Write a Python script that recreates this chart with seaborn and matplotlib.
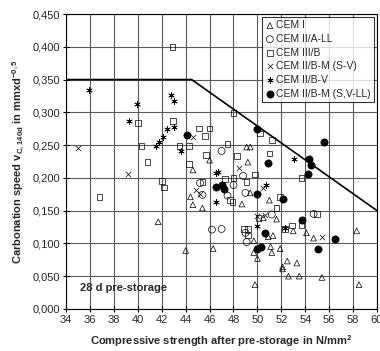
import seaborn as sns
import matplotlib.pyplot as plt
from matplotlib.ticker import MultipleLocator, FuncFormatter

# CEM I (open triangles)
cem1_x = [41.7, 44.0, 44.4, 46.3, 44.6, 45.4, 48.7, 51.0, 51.6, 50.5, 49.7, 50.0, 49.7, 49.8,
          50.9, 51.3, 51.1, 51.2, 52.1, 51.9, 52.5, 53.3, 52.6, 53.5, 53.0, 54.1, 54.7, 55.4,
          58.3, 58.5, 49.1, 49.4, 49.2, 46.0, 44.6, 49.4, 52.1]
cem1_y = [0.133, 0.089, 0.171, 0.092, 0.159, 0.154, 0.160, 0.166, 0.137, 0.139, 0.104, 0.077,
          0.086, 0.037, 0.110, 0.112, 0.095, 0.086, 0.061, 0.092, 0.073, 0.070, 0.050, 0.050,
          0.119, 0.116, 0.108, 0.048, 0.119, 0.037, 0.247, 0.247, 0.224, 0.227, 0.212, 0.177, 0.064]

# CEM II/A-LL (open circles)
cem2all_x = [46.2, 47.0, 45.4, 47.5, 48.0, 49.0, 51.2, 49.0, 49.1, 54.7, 47.0, 48.8, 45.2]
cem2all_y = [0.121, 0.122, 0.174, 0.173, 0.189, 0.177, 0.144, 0.116, 0.102, 0.145, 0.241, 0.203, 0.192]

# CEM III/B (open squares)
cem3b_x = [42.9, 40.0, 42.95, 40.3, 40.8, 43.5, 44.3, 44.3, 36.8, 42.0, 42.2, 48.0, 45.1, 46.0,
           45.6, 47.5, 50.2, 51.2, 51.0, 45.7, 48.3, 49.8, 48.0, 53.7, 45.4, 47.3, 49.1, 47.9,
           51.9, 51.6, 50.1, 55.0, 48.9, 49.2, 49.2, 52.3, 52.9, 53.7, 47.7]
cem3b_y = [0.400, 0.284, 0.287, 0.249, 0.224, 0.249, 0.249, 0.221, 0.171, 0.195, 0.185, 0.299,
           0.275, 0.275, 0.264, 0.252, 0.268, 0.258, 0.237, 0.235, 0.233, 0.205, 0.200, 0.200,
           0.194, 0.198, 0.194, 0.163, 0.171, 0.154, 0.139, 0.145, 0.122, 0.122, 0.112, 0.122,
           0.127, 0.127, 0.166]

# CEM II/B-M (S-V) (crosses)
cem2bmsv_x = [35.0, 39.2, 44.6, 48.5, 44.9, 50.0, 50.6, 55.4, 50.5, 45.2]
cem2bmsv_y = [0.246, 0.206, 0.262, 0.215, 0.182, 0.141, 0.143, 0.110, 0.185, 0.176]

# CEM II/B-V (asterisks)
cem2bv_x = [35.9, 39.9, 39.3, 42.8, 43.0, 43.0, 42.4, 42.1, 41.8, 41.5, 43.6, 53.1, 46.5, 46.7,
            46.5, 50.7, 50.0, 52.3]
cem2bv_y = [0.334, 0.313, 0.287, 0.326, 0.318, 0.278, 0.275, 0.262, 0.255, 0.249, 0.241, 0.229,
            0.208, 0.209, 0.163, 0.189, 0.127, 0.124]

# CEM II/B-M (S,V-LL) (filled circles)
cem2bmsvll_x = [44.1, 50.0, 50.9, 55.6, 54.3, 54.5, 54.2, 46.5, 47.0, 47.2, 50.0, 52.1, 53.7,
                50.6, 50.0, 50.3, 55.1, 56.5]
cem2bmsvll_y = [0.266, 0.275, 0.223, 0.254, 0.229, 0.220, 0.206, 0.186, 0.189, 0.183, 0.176,
                0.168, 0.136, 0.116, 0.092, 0.095, 0.092, 0.107]

# limit line
limit_x = [34, 44.5, 60]
limit_y = [0.35, 0.35, 0.15]

sns.set_style("white")
plt.rcParams['font.family'] = ['Liberation Sans', 'DejaVu Sans']

fig = plt.figure(figsize=(3.8, 3.51), dpi=100)
ax = fig.add_axes([0.174, 0.12, 0.818, 0.84])

ax.grid(True, color="#5a5a5a", linewidth=0.8)
ax.set_axisbelow(True)

sns.lineplot(x=limit_x, y=limit_y, color="black", linewidth=1.2, ax=ax, zorder=2)

sns.scatterplot(x=cem1_x, y=cem1_y, marker="^", s=17, facecolor="none", edgecolor="black",
                linewidth=0.5, label="CEM I", ax=ax, zorder=3)
sns.scatterplot(x=cem2all_x, y=cem2all_y, marker="o", s=25, facecolor="none", edgecolor="black",
                linewidth=0.5, label="CEM II/A-LL", ax=ax, zorder=3)
sns.scatterplot(x=cem3b_x, y=cem3b_y, marker="s", s=16, facecolor="none", edgecolor="black",
                linewidth=0.5, label="CEM III/B", ax=ax, zorder=3)
sns.scatterplot(x=cem2bmsv_x, y=cem2bmsv_y, marker="x", s=15, color="black",
                linewidth=0.5, label="CEM II/B-M (S-V)", ax=ax, zorder=3)
sns.scatterplot(x=cem2bv_x, y=cem2bv_y, marker=(6, 2, 0), s=18, color="black",
                linewidth=0.5, label="CEM II/B-V", ax=ax, zorder=3)
sns.scatterplot(x=cem2bmsvll_x, y=cem2bmsvll_y, marker="o", s=27, color="black",
                edgecolor="black", linewidth=0.5, label="CEM II/B-M (S,V-LL)", ax=ax, zorder=3)

ax.set_xlim(34, 60)
ax.set_ylim(0, 0.45)
ax.xaxis.set_major_locator(MultipleLocator(2))
ax.yaxis.set_major_locator(MultipleLocator(0.05))
ax.yaxis.set_major_formatter(FuncFormatter(lambda v, p: f"{v:.3f}".replace(".", ",")))
ax.tick_params(axis="both", labelsize=8, direction="inout", length=5, width=0.8,
               bottom=True, left=True, color="black", pad=2)

for sp in ax.spines.values():
    sp.set_color("black")
    sp.set_linewidth(0.8)

ax.set_xlabel("Compressive strength after pre-storage in N/mm$^\\mathregular{2}$",
              fontsize=8, fontweight="bold", labelpad=6)
ax.set_ylabel("Carbonation speed v$_\\mathregular{C,140d}$ in mmxd$^\\mathregular{-0,5}$",
              fontsize=8, fontweight="bold", labelpad=4)

ax.text(35.2, 0.027, "28 d pre-storage", fontsize=8, fontweight="bold")

leg = ax.legend(loc="upper right", fontsize=7.5, frameon=True, fancybox=False,
                handletextpad=0.1, handlelength=1.0, borderpad=0.3, labelspacing=0.35,
                borderaxespad=0.3)
leg.get_frame().set_edgecolor("black")
leg.get_frame().set_linewidth(0.8)

fig.savefig("out.png", dpi=100)
